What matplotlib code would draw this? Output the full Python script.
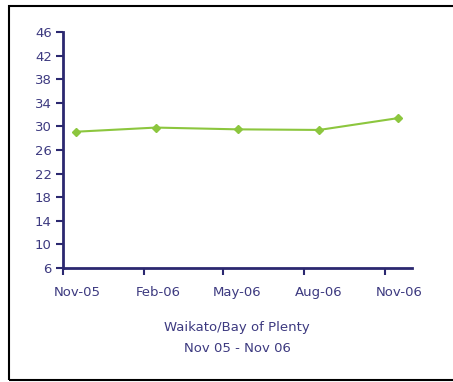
import datetime as dt
import matplotlib
matplotlib.use("Agg")
import matplotlib.pyplot as plt
from matplotlib.patches import Rectangle

# Survey points (mid-month) and values
dates = [dt.date(2005, 11, 16), dt.date(2006, 2, 14), dt.date(2006, 5, 18),
         dt.date(2006, 8, 18), dt.date(2006, 11, 15)]
values = [29.1, 29.8, 29.5, 29.4, 31.4]

tick_dates = [dt.date(2005, 11, 1), dt.date(2006, 2, 1), dt.date(2006, 5, 1),
              dt.date(2006, 8, 1), dt.date(2006, 11, 1)]
label_dates = [dt.date(2005, 11, 17), dt.date(2006, 2, 17), dt.date(2006, 5, 17),
               dt.date(2006, 8, 17), dt.date(2006, 11, 17)]
tick_labels = ["Nov-05", "Feb-06", "May-06", "Aug-06", "Nov-06"]
y_ticks = [6, 10, 14, 18, 22, 26, 30, 34, 38, 42, 46]

navy = "#2b2870"
text_col = "#3d3a80"
green = "#8cc63e"

fig = plt.figure(figsize=(4.53, 3.82), dpi=100)
ax = fig.add_axes([63 / 453, 1 - 268 / 382, (412 - 63) / 453, (268 - 32) / 382])

ax.plot(dates, values, color=green, linewidth=1.5, marker="D", markersize=4.5,
        markeredgecolor=green, markerfacecolor=green)

ax.set_xlim(dt.date(2005, 11, 1), dt.date(2006, 12, 1))
ax.set_ylim(6, 46)
# tick marks at month starts, labels centred on the middle of the month
ax.set_xticks(tick_dates)
ax.set_xticklabels([])
ax.set_xticks(label_dates, minor=True)
ax.set_xticklabels(tick_labels, minor=True)
ax.set_yticks(y_ticks)

for side in ("top", "right"):
    ax.spines[side].set_visible(False)
for side in ("left", "bottom"):
    ax.spines[side].set_color(navy)
    ax.spines[side].set_linewidth(2)
ax.tick_params(axis="both", colors=navy, width=1.5, length=5, direction="out",
               labelcolor=text_col, labelsize=9.5, pad=3)
ax.tick_params(axis="x", which="minor", length=0, pad=13, labelcolor=text_col,
               labelsize=9.5)

fig.text(237 / 453, 1 - 328 / 382, "Waikato/Bay of Plenty", ha="center", va="center",
         color=text_col, fontsize=9.5)
fig.text(237 / 453, 1 - 348 / 382, "Nov 05 - Nov 06", ha="center", va="center",
         color=text_col, fontsize=9.5)

# outer frame, right edge runs off the canvas
fig.patches.append(Rectangle((9 / 453, 1 - 380 / 382), 500 / 453, 374 / 382,
                             transform=fig.transFigure, fill=False,
                             edgecolor="black", linewidth=1.5))

fig.savefig("out.png", dpi=100)
